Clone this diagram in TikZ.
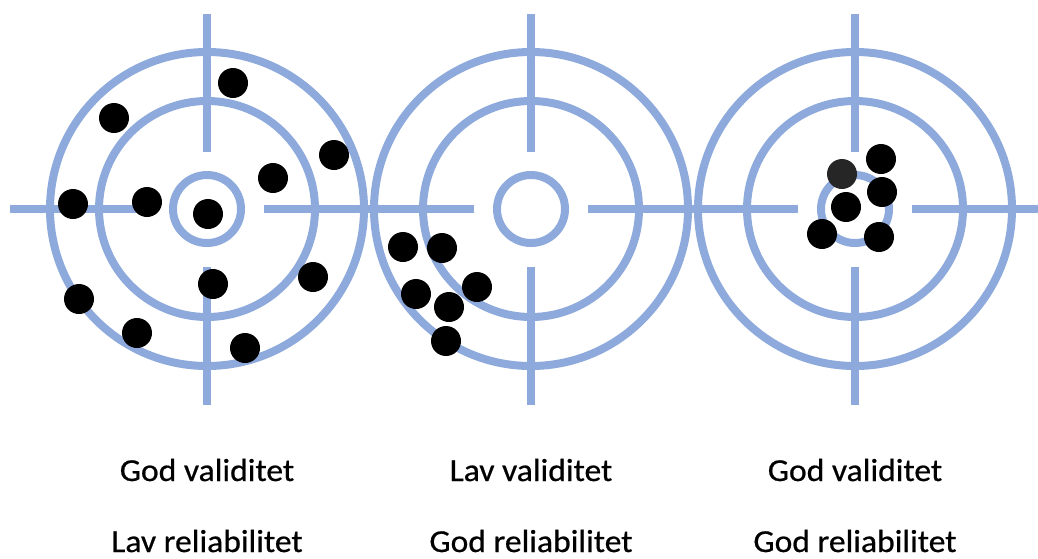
\documentclass[tikz,border=0pt]{standalone}
\usepackage{fontspec}
\setmainfont{Carlito}
\newfontfamily\lblfont[FakeBold=0.6]{Carlito}
\definecolor{tblue}{RGB}{142,169,219}
\definecolor{dgray}{RGB}{38,38,38}
\begin{document}
\begin{tikzpicture}[x=1pt,y=-1pt,
  ring/.style={draw=tblue,line width=8pt},
  cross/.style={draw=tblue,line width=8pt},
  hit/.style={circle,fill=black,inner sep=0pt,minimum size=30pt},
  lbl/.style={font=\lblfont\fontsize{32}{38}\selectfont,anchor=base,inner sep=0pt,xscale=1.05}]
\useasboundingbox (0,0) rectangle (1038,558);
% horizontal crosshair segments
\draw[cross] (10,209) -- (150,209);
\draw[cross] (264,209) -- (474,209);
\draw[cross] (588,209) -- (798,209);
\draw[cross] (912,209) -- (1038,209);
\foreach \c/\n in {207/a,531/b,855/c}{
  \draw[cross] (\c,14) -- (\c,152);
  \draw[cross] (\c,267) -- (\c,405);
  \draw[ring] (\c,209) circle[radius=157];
  \draw[ring] (\c,209) circle[radius=108];
  \draw[ring] (\c,209) circle[radius=34];
}
% target 1
\node[hit] (a1) at (233,83) {};
\node[hit] (a2) at (114,118) {};
\node[hit] (a3) at (334,155) {};
\node[hit] (a4) at (273,178) {};
\node[hit] (a5) at (73,204) {};
\node[hit] (a6) at (147,202) {};
\node[hit] (a7) at (208,214) {};
\node[hit] (a8) at (213,284) {};
\node[hit] (a9) at (313,277) {};
\node[hit] (a10) at (79,299) {};
\node[hit] (a11) at (137,333) {};
\node[hit] (a12) at (245,348) {};
% target 2
\node[hit] (b1) at (403,247) {};
\node[hit] (b2) at (442,248) {};
\node[hit] (b3) at (416,294) {};
\node[hit] (b4) at (477,287) {};
\node[hit] (b5) at (449,307) {};
\node[hit] (b6) at (446,341) {};
% target 3
\node[hit,fill=dgray] (c1) at (842,174) {};
\node[hit] (c2) at (881,159) {};
\node[hit] (c3) at (882,192) {};
\node[hit] (c4) at (846,207) {};
\node[hit] (c5) at (822,234) {};
\node[hit] (c6) at (879,237) {};
% labels
\node[lbl] (t1) at (207,481) {God validitet};
\node[lbl] (t2) at (207,552) {Lav reliabilitet};
\node[lbl] (t3) at (531,481) {Lav validitet};
\node[lbl] (t4) at (531,552) {God reliabilitet};
\node[lbl] (t5) at (855,481) {God validitet};
\node[lbl] (t6) at (855,552) {God reliabilitet};
\end{tikzpicture}
\end{document}
